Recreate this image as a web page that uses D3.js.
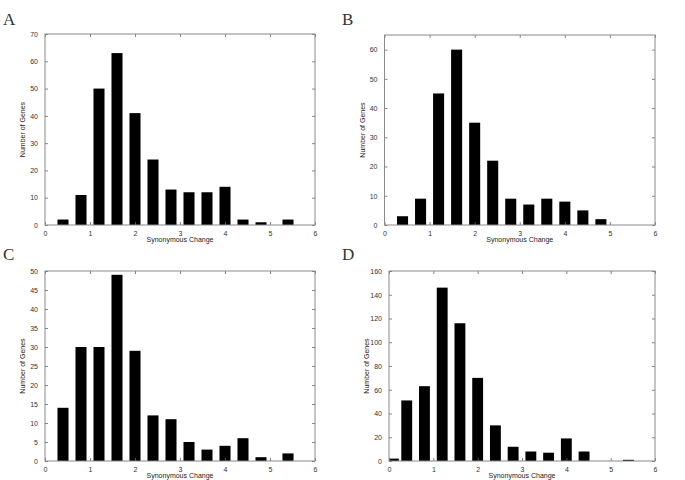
<!DOCTYPE html>
<html>
<head>
<meta charset="utf-8">
<script src="https://cdn.jsdelivr.net/npm/d3@7"></script>
<style>
  body { margin: 0; background: #fff; }
  svg { display: block; }
  .tick text { font-family: "Liberation Sans", Arial, sans-serif; font-size: 7px; fill: #333; }
</style>
</head>
<body>
<div id="chart"></div>
<script>
// data
const xTicks = [0, 1, 2, 3, 4, 5, 6];

const binsA = [0.4, 0.8, 1.2, 1.6, 2.0, 2.4, 2.8, 3.2, 3.6, 4.0, 4.4, 4.8, 5.4];
const countsA = [2, 11, 50, 63, 41, 24, 13, 12, 12, 14, 2, 1, 2];

const binsB = [0.4, 0.8, 1.2, 1.6, 2.0, 2.4, 2.8, 3.2, 3.6, 4.0, 4.4, 4.8];
const countsB = [3, 9, 45, 60, 35, 22, 9, 7, 9, 8, 5, 2];

const binsC = [0.4, 0.8, 1.2, 1.6, 2.0, 2.4, 2.8, 3.2, 3.6, 4.0, 4.4, 4.8, 5.4];
const countsC = [14, 30, 30, 49, 29, 12, 11, 5, 3, 4, 6, 1, 2];

const binsD = [0.1, 0.4, 0.8, 1.2, 1.6, 2.0, 2.4, 2.8, 3.2, 3.6, 4.0, 4.4, 5.4];
const countsD = [2, 51, 63, 146, 116, 70, 30, 12, 8, 7, 19, 8, 1];

const panels = [
  { letter: "A", bins: binsA, counts: countsA, yMax: 70, yStep: 10, box: [45, 34, 315, 225], lx: 3, ly: 25 },
  { letter: "B", bins: binsB, counts: countsB, yMax: 65, yStep: 10, box: [384.5, 35, 655, 225], lx: 342, ly: 25 },
  { letter: "C", bins: binsC, counts: countsC, yMax: 50, yStep: 5, box: [45, 271, 315, 461], lx: 3, ly: 260 },
  { letter: "D", bins: binsD, counts: countsD, yMax: 160, yStep: 20, box: [389, 271, 655, 461], lx: 342, ly: 260 }
];

const width = 685, height = 480;
const svg = d3.select("#chart").append("svg")
  .attr("width", width)
  .attr("height", height);

const frameColor = "#8a8a8a";
const tickLen = 3;

panels.forEach((p, i) => {
  const [x0, y0, x1, y1] = p.box;

  const x = d3.scaleLinear().domain([0, 6]).range([x0, x1]);
  const y = d3.scaleLinear().domain([0, p.yMax]).range([y1, y0]);
  const yTicks = d3.range(0, p.yMax + 0.001, p.yStep);

  const g = svg.append("g").attr("class", "panel-" + p.letter);

  g.append("defs").append("clipPath")
    .attr("id", "clip" + i)
    .append("rect")
    .attr("x", x0).attr("y", y0)
    .attr("width", x1 - x0).attr("height", y1 - y0);

  // bars
  const barW = x(0.245) - x(0);
  const data = p.bins.map((b, j) => ({ bin: b, count: p.counts[j] }));
  g.append("g")
    .attr("clip-path", `url(#clip${i})`)
    .selectAll("rect")
    .data(data)
    .enter().append("rect")
    .attr("x", d => x(d.bin) - barW / 2)
    .attr("y", d => y(d.count))
    .attr("width", barW)
    .attr("height", d => y1 - y(d.count))
    .attr("fill", "#000");

  // axes, gnuplot-like inward ticks
  const xAxis = d3.axisBottom(x).tickValues(xTicks).tickFormat(d3.format("d"))
    .tickSizeInner(-tickLen).tickSizeOuter(0).tickPadding(6);
  const yAxis = d3.axisLeft(y).tickValues(yTicks).tickFormat(d3.format("d"))
    .tickSizeInner(-tickLen).tickSizeOuter(0).tickPadding(7);
  const xTop = d3.axisTop(x).tickValues(xTicks).tickFormat("")
    .tickSizeInner(-tickLen).tickSizeOuter(0);
  const yRight = d3.axisRight(y).tickValues(yTicks).tickFormat("")
    .tickSizeInner(-tickLen).tickSizeOuter(0);

  const gx = g.append("g").attr("transform", `translate(0,${y1})`).call(xAxis);
  const gy = g.append("g").attr("transform", `translate(${x0},0)`).call(yAxis);
  const gt = g.append("g").attr("transform", `translate(0,${y0})`).call(xTop);
  const gr = g.append("g").attr("transform", `translate(${x1},0)`).call(yRight);

  [gx, gy, gt, gr].forEach(a => {
    a.select(".domain").remove();
    a.selectAll(".tick line").attr("stroke", "#666").attr("stroke-width", 0.8);
  });

  // frame
  g.append("rect")
    .attr("x", x0).attr("y", y0)
    .attr("width", x1 - x0).attr("height", y1 - y0)
    .attr("fill", "none")
    .attr("stroke", frameColor)
    .attr("stroke-width", 1);

  // labels
  g.append("text")
    .attr("x", (x0 + x1) / 2)
    .attr("y", y1 + 17)
    .attr("text-anchor", "middle")
    .attr("font-family", "Liberation Sans, Arial, sans-serif")
    .attr("font-size", 7)
    .attr("fill", "#222")
    .text("Synonymous Change");

  g.append("text")
    .attr("text-anchor", "middle")
    .attr("transform", `translate(${x0 - 20},${(y0 + y1) / 2}) rotate(-90)`)
    .attr("font-family", "Liberation Sans, Arial, sans-serif")
    .attr("font-size", 7)
    .attr("fill", "#222")
    .text("Number of Genes");

  g.append("text")
    .attr("x", p.lx)
    .attr("y", p.ly)
    .attr("font-family", "Liberation Serif, Times New Roman, serif")
    .attr("font-size", 17)
    .attr("fill", "#333")
    .text(p.letter);
});
</script>
</body>
</html>
